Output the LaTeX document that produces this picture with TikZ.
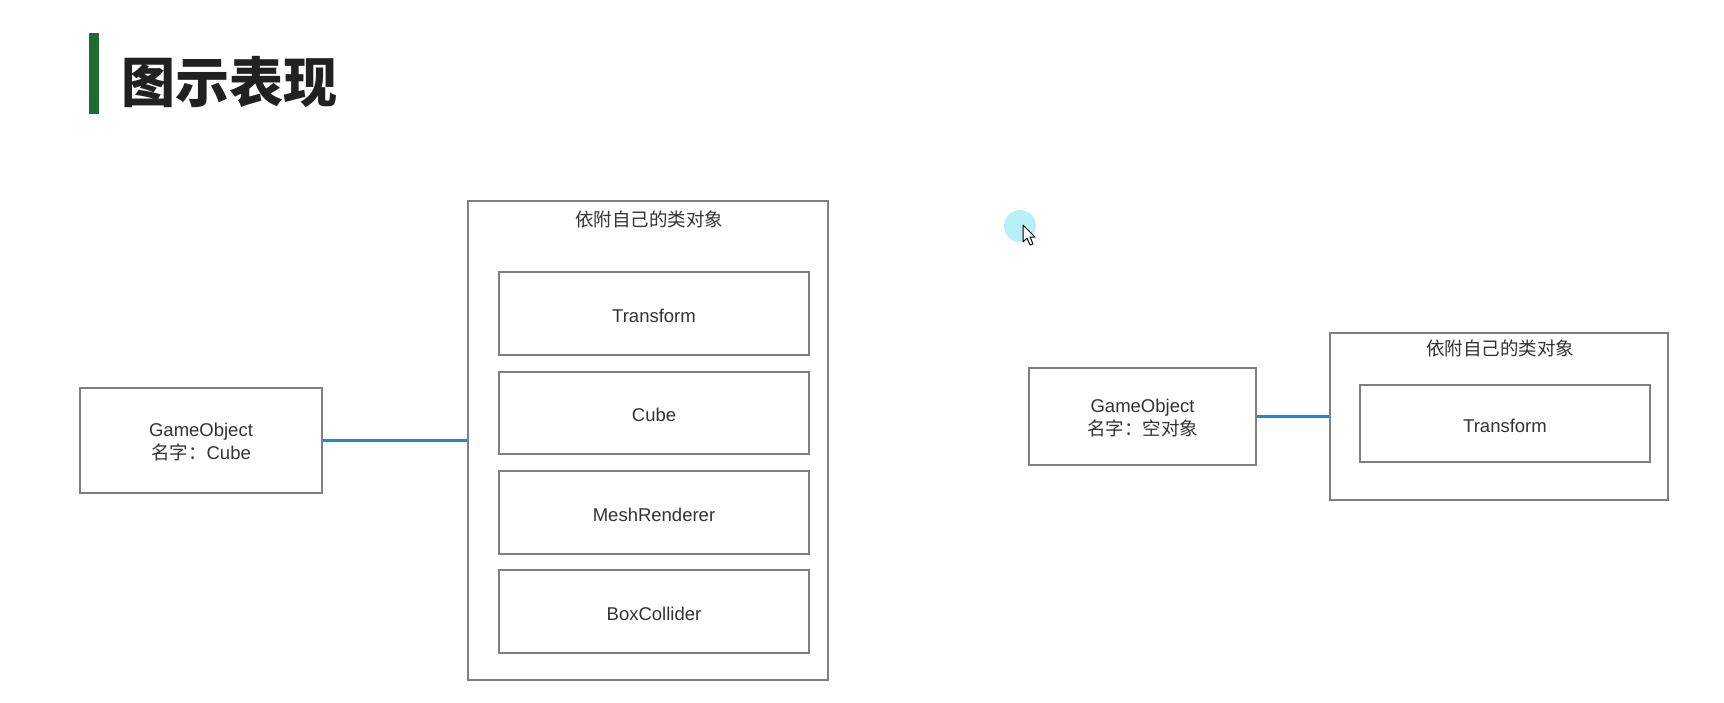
\documentclass[tikz,border=0pt]{standalone}
\usepackage{fontspec}
\setmainfont{Liberation Sans}
\newfontfamily\cjk{Noto Sans CJK SC}
\definecolor{boxgray}{HTML}{7F7F7F}
\definecolor{linkblue}{HTML}{1E88D0}
\definecolor{txt}{HTML}{333333}
\definecolor{titlegreen}{HTML}{1F6B34}
\definecolor{cursorcyan}{HTML}{B8F0F8}
\begin{document}
\begin{tikzpicture}[x=0.5pt,y=-0.5pt,
  box/.style={draw=boxgray,line width=0.65pt,inner sep=0pt,fill=white},
  lbl/.style={text=txt,font=\fontsize{9.25pt}{11.5pt}\selectfont,align=center,inner sep=0pt,yshift=-1pt},
  link/.style={draw=linkblue,line width=1.5pt}]
\useasboundingbox[fill=white] (0,0) rectangle (1724,702);
% title
\fill[titlegreen] (89,33) rectangle (99,114);
\node[anchor=west,inner sep=0pt,text=black!87,font=\cjk\bfseries\fontsize{27pt}{30pt}\selectfont] (title) at (121,82) {图示表现};
% left group
\node[box,minimum width=121pt,minimum height=52.5pt] (go1) at (201,440.5) {};
\node[lbl] (go1t) at (go1.center) {GameObject\\{\cjk 名字：}Cube};
\node[box,minimum width=180pt,minimum height=239.5pt] (c1) at (648,440.5) {};
\node[lbl,font=\cjk\fontsize{9.25pt}{11.5pt}\selectfont] (c1t) at (649,217) {依附自己的类对象};
\node[box,minimum width=155pt,minimum height=41.5pt] (a1) at (654,313.5) {};
\node[lbl] at (a1.center) {Transform};
\node[box,minimum width=155pt,minimum height=41pt] (a2) at (654,413) {};
\node[lbl] at (a2.center) {Cube};
\node[box,minimum width=155pt,minimum height=41.5pt] (a3) at (654,512.5) {};
\node[lbl] at (a3.center) {MeshRenderer};
\node[box,minimum width=155pt,minimum height=41.5pt] (a4) at (654,611.5) {};
\node[lbl] at (a4.center) {BoxCollider};
\draw[link] (go1.east) -- (c1.west);
% right group
\node[box,minimum width=113.5pt,minimum height=48.5pt] (go2) at (1142.5,416.5) {};
\node[lbl] (go2t) at (go2.center) {GameObject\\{\cjk 名字：空对象}};
\node[box,minimum width=169pt,minimum height=83.5pt] (c2) at (1499,416.5) {};
\node[lbl,font=\cjk\fontsize{9.25pt}{11.5pt}\selectfont] (c2t) at (1500,346) {依附自己的类对象};
\node[box,minimum width=145pt,minimum height=38.5pt] (b1) at (1505,423.5) {};
\node[lbl] at (b1.center) {Transform};
\draw[link] (go2.east) -- (c2.west);
% cursor
\fill[cursorcyan] (1020,226) circle (16);
\draw[fill=white,line width=0.5pt,line join=round]
  (1023,225) -- (1023,242) -- (1027,238) -- (1030,245) -- (1033,244) -- (1030,237) -- (1035,237) -- cycle;
\end{tikzpicture}
\end{document}
